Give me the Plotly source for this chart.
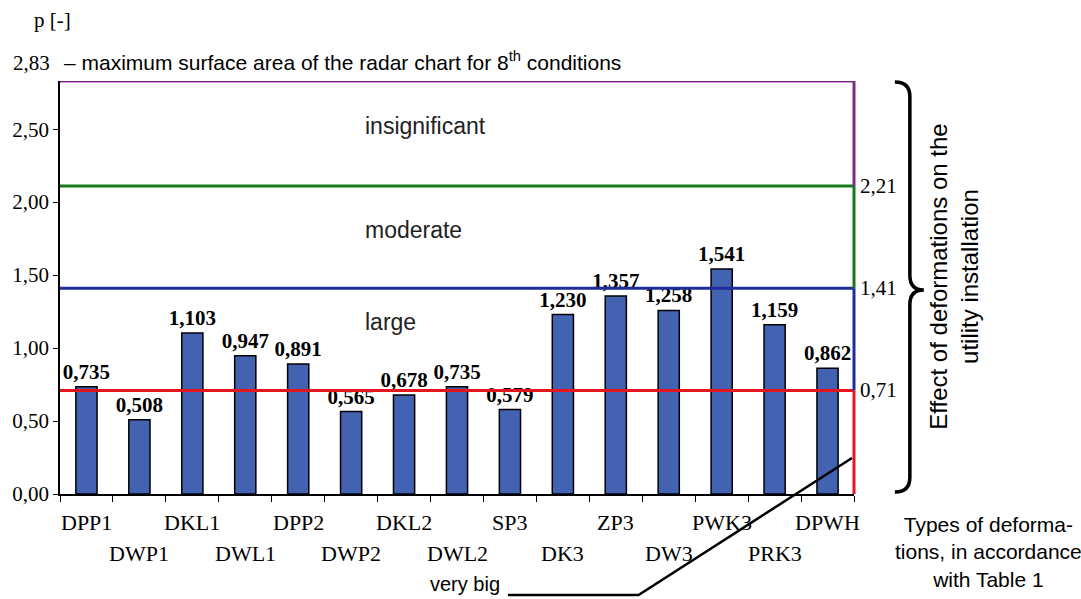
import plotly.graph_objects as go

# ---- data ----
categories = ["DPP1", "DWP1", "DKL1", "DWL1", "DPP2", "DWP2", "DKL2", "DWL2",
              "SP3", "DK3", "ZP3", "DW3", "PWK3", "PRK3", "DPWH"]
values = [0.735, 0.508, 1.103, 0.947, 0.891, 0.565, 0.678, 0.735,
          0.579, 1.230, 1.357, 1.258, 1.541, 1.159, 0.862]
y_ticks = [0.0, 0.5, 1.0, 1.5, 2.0, 2.5]
max_area = 2.83
thresholds = [0.71, 1.41, 2.11]          # drawn positions of boundaries
threshold_labels = ["0,71", "1,41", "2,21"]
zones = ["large", "moderate", "insignificant"]
zone_label_y = [1.18, 1.81, 2.52]

# ---- layout geometry ----
W, H = 1081, 599
ML, MR, MT, MB = 58, 227, 81, 105
PW, PH = W - ML - MR, H - MT - MB


def px(x):
    return (x - ML) / PW


def py(y):
    return (H - MB - y) / PH


SERIF = "Liberation Serif"
SANS = "Liberation Sans"

fig = go.Figure()
fig.add_trace(go.Bar(
    x=categories, y=values, width=0.4,
    marker=dict(color="#4363B2", line=dict(color="black", width=1.5)),
    texttemplate="%{y:.3f}", textposition="outside", constraintext="none",
    textfont=dict(family=SERIF, size=21, color="black", weight="bold"),
    cliponaxis=False, showlegend=False,
))

shapes = []
line_colors = ["#E3161E", "#1F2D9A", "#17781C", "#7E2B86"]
levels = [0.0] + thresholds + [max_area]
# horizontal boundary lines
for yv, col in zip(thresholds + [max_area], line_colors):
    shapes.append(dict(type="line", xref="paper", yref="y", x0=0, x1=1,
                       y0=yv, y1=yv, line=dict(color=col, width=3), layer="above"))
# right-side coloured vertical segments
for i, col in enumerate(line_colors):
    shapes.append(dict(type="line", xref="paper", yref="y", x0=1, x1=1,
                       y0=levels[i], y1=levels[i + 1],
                       line=dict(color=col, width=3), layer="above"))

# curly brace
bx_end, bx_body, bx_tip = px(895), px(910), px(924)
by_top, by_mid, by_bot = py(82), py(290), py(492)
dy = 0.035
brace = (f"M {bx_end},{by_top} "
         f"Q {bx_body},{by_top} {bx_body},{by_top - dy} "
         f"L {bx_body},{by_mid + dy} "
         f"Q {bx_body},{by_mid} {bx_tip},{by_mid} "
         f"Q {bx_body},{by_mid} {bx_body},{by_mid - dy} "
         f"L {bx_body},{by_bot + dy} "
         f"Q {bx_body},{by_bot} {bx_end},{by_bot}")
shapes.append(dict(type="path", xref="paper", yref="paper", path=brace,
                   line=dict(color="black", width=3.5)))

# "very big" leader line
shapes.append(dict(type="path", xref="paper", yref="paper",
                   path=f"M {px(507)},{py(595)} L {px(638)},{py(595)} L {px(852)},{py(458)}",
                   line=dict(color="black", width=2.5)))

annotations = []
# x tick labels in two rows
for i, c in enumerate(categories):
    annotations.append(dict(x=c, xref="x", yref="paper",
                            y=py(522) if i % 2 == 0 else py(553),
                            text=c, showarrow=False, xanchor="center", yanchor="middle",
                            font=dict(family=SERIF, size=22, color="black")))
# threshold labels on right
for yv, lab in zip(thresholds, threshold_labels):
    annotations.append(dict(x=1, xref="paper", y=yv, yref="y", text=lab,
                            showarrow=False, xanchor="left", xshift=4, yanchor="middle",
                            font=dict(family=SERIF, size=21, color="black")))
# zone labels
for lab, yv in zip(zones, zone_label_y):
    annotations.append(dict(x=px(362), xref="paper", y=yv, yref="y", text=lab,
                            showarrow=False, xanchor="left", yanchor="middle",
                            font=dict(family=SANS, size=23, color="#222222")))
# top texts
annotations.append(dict(x=px(30), y=py(20), xref="paper", yref="paper", text="p [-]",
                        showarrow=False, xanchor="left", yanchor="middle",
                        font=dict(family=SERIF, size=21, color="black")))
annotations.append(dict(x=px(9), y=py(63), xref="paper", yref="paper", text="2,83",
                        showarrow=False, xanchor="left", yanchor="middle",
                        font=dict(family=SERIF, size=21, color="black")))
annotations.append(dict(x=px(60), y=py(61), xref="paper", yref="paper",
                        text="– maximum surface area of the radar chart for 8<sup>th</sup> conditions",
                        showarrow=False, xanchor="left", yanchor="middle",
                        font=dict(family=SANS, size=21, color="black")))
# rotated right title
annotations.append(dict(x=px(954), y=py(277), xref="paper", yref="paper",
                        text="Effect of deformations on the<br>utility installation",
                        showarrow=False, textangle=-90, xanchor="center", yanchor="middle",
                        font=dict(family=SANS, size=24, color="black")))
# x-axis note
annotations.append(dict(x=px(989), y=py(552), xref="paper", yref="paper",
                        text="Types of deforma-<br>tions, in accordance<br>with Table 1",
                        showarrow=False, xanchor="center", yanchor="middle", align="center",
                        font=dict(family=SANS, size=21, color="black")))
annotations.append(dict(x=px(464), y=py(584), xref="paper", yref="paper", text="very big",
                        showarrow=False, xanchor="center", yanchor="middle",
                        font=dict(family=SANS, size=20, color="black")))

fig.update_layout(
    width=W, height=H,
    margin=dict(l=ML, r=MR, t=MT, b=MB),
    paper_bgcolor="white", plot_bgcolor="white",
    separators=",.",
    shapes=shapes, annotations=annotations,
    showlegend=False,
    xaxis=dict(type="category", range=[-0.5, len(categories) - 0.5],
               showticklabels=False, ticks="outside", tickson="boundaries",
               ticklen=6, tickcolor="black", tickwidth=1.2,
               showline=True, linecolor="black", linewidth=1.5,
               showgrid=False, zeroline=False, fixedrange=True),
    yaxis=dict(range=[0, max_area], tickvals=y_ticks, tickformat=".2f",
               ticks="outside", ticklen=5, tickcolor="black", tickwidth=1.2,
               showline=True, linecolor="black", linewidth=1.5,
               showgrid=False, zeroline=False,
               tickfont=dict(family=SERIF, size=21, color="black")),
)

fig.write_html("out.html", config={"displayModeBar": False},
               post_script="document.body.style.margin='0';document.body.style.overflow='hidden';")
